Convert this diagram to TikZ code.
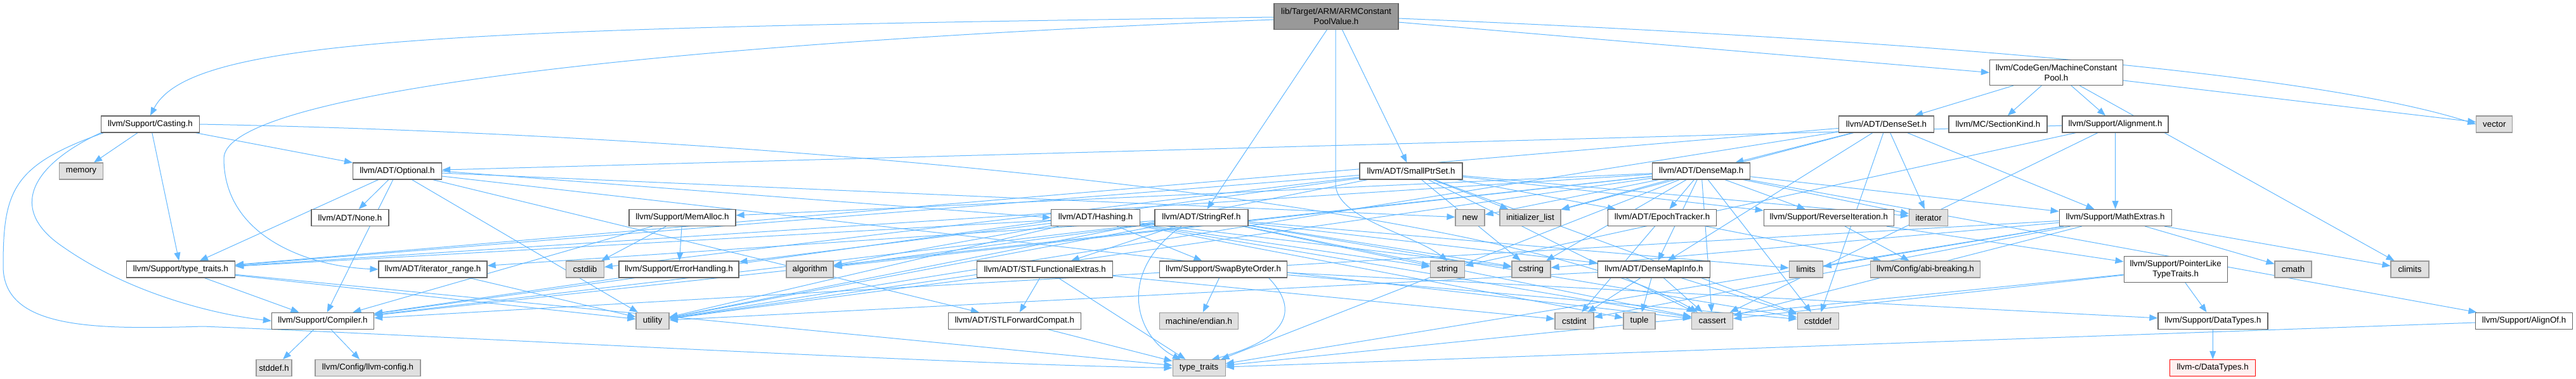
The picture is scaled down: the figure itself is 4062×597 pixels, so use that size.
\documentclass[tikz,border=0pt]{standalone}
\usepackage{fontspec}
\setmainfont{Liberation Sans}
\usetikzlibrary{arrows.meta}
\definecolor{edgec}{HTML}{63B8FF}
\definecolor{wbord}{HTML}{666666}
\definecolor{gbord}{HTML}{999999}
\definecolor{gfill}{HTML}{E0E0E0}
\definecolor{rootfill}{HTML}{999999}
\definecolor{rfill}{HTML}{FFF0F0}
\definecolor{rbord}{HTML}{FF0000}
\pgfdeclarelayer{edgelayer}
\pgfsetlayers{edgelayer,main}
\begin{document}
\begin{tikzpicture}[x=1pt,y=-1pt,
  box/.style={draw=wbord, fill=white, line width=1.2pt, rectangle, inner sep=0pt,
    minimum height=26pt, font=\fontsize{13.3}{16.5}\selectfont, align=center},
  gbox/.style={box, draw=gbord, fill=gfill},
  rootbox/.style={box, fill=rootfill, minimum height=41pt},
  rbox/.style={box, draw=rbord, fill=rfill},
  e/.style={draw=edgec, line width=1pt, -{Triangle[length=13pt,width=10pt]}}]
\useasboundingbox (0,0) rectangle (4062,597);
% nodes
\node[rootbox, minimum width=196pt] (root) at (2107,25.7) {lib/Target/ARM/ARMConstant\\PoolValue.h};
\node[box, minimum width=155pt] (casting) at (237,196) {llvm/Support/Casting.h};
\node[gbox, minimum width=69pt] (memory) at (128,270) {memory};
\node[box, minimum width=140pt] (optional) at (626.5,270) {llvm/ADT/Optional.h};
\node[box, minimum width=122pt] (none) at (552,343.5) {llvm/ADT/None.h};
\node[box, minimum width=171pt] (sttraits) at (285,425) {llvm/Support/type\_traits.h};
\node[box, minimum width=171pt] (itrange) at (682.5,425) {llvm/ADT/iterator\_range.h};
\node[box, minimum width=161pt] (compiler) at (509,506.3) {llvm/Support/Compiler.h};
\node[gbox, minimum width=56pt] (stddef) at (432,580.5) {stddef.h};
\node[gbox, minimum width=166pt] (llvmconfig) at (580,580.5) {llvm/Config/llvm-config.h};
\node[box, minimum width=168pt] (memalloc) at (1076,343.5) {llvm/Support/MemAlloc.h};
\node[gbox, minimum width=60pt] (cstdlib) at (922.4,425) {cstdlib};
\node[box, minimum width=189pt] (errh) at (1070.4,425) {llvm/Support/ErrorHandling.h};
\node[gbox, minimum width=74pt] (algorithm) at (1277,425) {algorithm};
\node[gbox, minimum width=52pt] (utility) at (1029,506.3) {utility};
\node[box, minimum width=140pt] (hashing) at (1727.6,343.5) {llvm/ADT/Hashing.h};
\node[box, minimum width=147pt] (stringref) at (1894.4,343.5) {llvm/ADT/StringRef.h};
\node[box, minimum width=214pt] (stlfe) at (1647.7,425) {llvm/ADT/STLFunctionalExtras.h};
\node[box, minimum width=201pt] (swap) at (1929,425) {llvm/Support/SwapByteOrder.h};
\node[box, minimum width=209pt] (stlfc) at (1599.8,506.3) {llvm/ADT/STLForwardCompat.h};
\node[gbox, minimum width=124pt] (endian) at (1890.4,506.3) {machine/endian.h};
\node[gbox, minimum width=83pt] (typetraits) at (1890.6,580.5) {type\_traits};
\node[box, minimum width=162pt] (smallptr) at (2225,270) {llvm/ADT/SmallPtrSet.h};
\node[box, minimum width=154pt] (densemap) at (2682.7,270) {llvm/ADT/DenseMap.h};
\node[gbox, minimum width=46pt] (new) at (2318,343.5) {new};
\node[gbox, minimum width=96pt] (initlist) at (2413,343.5) {initializer\_list};
\node[box, minimum width=171pt] (epoch) at (2621,343.5) {llvm/ADT/EpochTracker.h};
\node[gbox, minimum width=54pt] (string) at (2282.4,425) {string};
\node[gbox, minimum width=61pt] (cstring) at (2414.5,425) {cstring};
\node[box, minimum width=177pt] (dmi) at (2608,425) {llvm/ADT/DenseMapInfo.h};
\node[gbox, minimum width=61pt] (cstdint) at (2482.4,506.3) {cstdint};
\node[gbox, minimum width=50pt] (tuple) at (2585,506.3) {tuple};
\node[gbox, minimum width=65pt] (cassert) at (2700,506.3) {cassert};
\node[box, minimum width=210pt, minimum height=40pt] (mcp) at (3242.5,114.5) {llvm/CodeGen/MachineConstant\\Pool.h};
\node[box, minimum width=150pt] (denseset) at (2974.5,196) {llvm/ADT/DenseSet.h};
\node[box, minimum width=155pt] (sectionkind) at (3150.4,196) {llvm/MC/SectionKind.h};
\node[box, minimum width=167pt] (alignment) at (3335.5,196) {llvm/Support/Alignment.h};
\node[box, minimum width=205pt] (reviter) at (2883.8,343.5) {llvm/Support/ReverseIteration.h};
\node[gbox, minimum width=61pt] (iterator) at (3041,343.5) {iterator};
\node[box, minimum width=177pt] (mathextras) at (3335.6,343.5) {llvm/Support/MathExtras.h};
\node[gbox, minimum width=53pt] (limits) at (2847.7,425) {limits};
\node[gbox, minimum width=173pt] (abi) at (3035.9,425) {llvm/Config/abi-breaking.h};
\node[box, minimum width=163pt, minimum height=41pt] (pltt) at (3430.6,425) {llvm/Support/PointerLike\\TypeTraits.h};
\node[gbox, minimum width=65pt] (cstddef) at (2866.6,506.3) {cstddef};
\node[gbox, minimum width=57pt] (vector) at (3933.3,196) {vector};
\node[gbox, minimum width=58pt] (cmath) at (3616,425) {cmath};
\node[gbox, minimum width=60pt] (climits) at (3800,425) {climits};
\node[box, minimum width=173pt] (datatypes) at (3489.4,506.3) {llvm/Support/DataTypes.h};
\node[box, minimum width=153pt] (alignof) at (3980,506.3) {llvm/Support/AlignOf.h};
\node[rbox, minimum width=135pt] (cdatatypes) at (3489.2,580.5) {llvm-c/DataTypes.h};
\begin{pgfonlayer}{edgelayer}
% root
\draw[e] (2008,27) .. controls (700,45) and (300,60) .. (casting.north);
\draw[e] (2008,31) .. controls (1000,70) and (353,150) .. (353,250) .. controls (353,370) and (480,420) .. (itrange.west);
\draw[e] (2093,46) -- (stringref);
\draw[e] (2106,46) -- (2106,290) .. controls (2106,345) and (2230,370) .. (string.north);
\draw[e] (2116,46) -- (smallptr);
\draw[e] (2205,35) -- (mcp.west);
\draw[e] (2205,29) .. controls (3200,70) and (3700,130) .. (vector.west);
% casting
\draw[e] (casting) -- (memory);
\draw[e] (casting) -- (sttraits);
\draw[e] (casting) -- (optional);
\draw[e] (160,209) .. controls (50,260) and (10,330) .. (100,390) .. controls (200,460) and (330,495) .. (compiler.west);
\draw[e] (165,209) .. controls (20,260) and (5,300) .. (5,420) .. controls (5,520) and (150,520) .. (320,515) .. controls (700,530) and (1500,575) .. (typetraits.west);
\draw[e] (casting.east) .. controls (1300,215) and (2400,330) .. (cassert);
% optional
\draw[e] (optional) -- (none);
\draw[e] (optional.east) -- (hashing.west);
\draw[e] (optional) -- (new);
\draw[e] (optional) -- (stlfc);
\draw[e] (optional) -- (compiler);
\draw[e] (optional) -- (sttraits);
\draw[e] (optional) -- (cassert);
\draw[e] (optional) -- (utility);
% hashing
\foreach \t in {errh,swap,sttraits,algorithm,cassert,cstring,string,tuple,utility}
  \draw[e] (hashing) -- (\t);
% stringref
\foreach \t in {dmi,stlfe,itrange,compiler,algorithm,cassert,cstddef,cstring,limits,string,utility}
  \draw[e] (stringref) -- (\t);
\draw[e] (1863,357) .. controls (1760,430) and (1790,530) .. (1862,567.6);
% smallptr
\foreach \t in {epoch,compiler,reviter,sttraits,cassert,cstddef,cstdlib,cstring,initlist,iterator,utility}
  \draw[e] (smallptr) -- (\t);
% densemap
\foreach \t in {dmi,epoch,alignof,compiler,mathextras,memalloc,reviter,sttraits,algorithm,cassert,cstddef,cstring,initlist,iterator,new,typetraits,utility}
  \draw[e] (densemap) -- (\t);
% denseset
\foreach \t in {densemap,dmi,mathextras,sttraits,cstddef,initlist,iterator,utility}
  \draw[e] (denseset) -- (\t);
% mcp
\foreach \t in {denseset,sectionkind,alignment,climits,vector}
  \draw[e] (mcp) -- (\t);
% alignment
\foreach \t in {optional,mathextras,cassert,string}
  \draw[e] (alignment) -- (\t);
% mathextras
\foreach \t in {compiler,cassert,climits,cmath,cstdint,cstring,limits,typetraits}
  \draw[e] (mathextras) -- (\t);
% others
\draw[e] (reviter) -- (abi);
\draw[e] (reviter) -- (pltt);
\foreach \t in {datatypes,cassert,typetraits}
  \draw[e] (pltt) -- (\t);
\draw[e] (datatypes) -- (cdatatypes);
\draw[e] (epoch) -- (abi);
\draw[e] (epoch) -- (cstdint);
\foreach \t in {cassert,cstddef,cstdint,tuple,utility}
  \draw[e] (dmi) -- (\t);
\foreach \t in {compiler,errh,cstdlib}
  \draw[e] (memalloc) -- (\t);
\draw[e] (errh) -- (compiler);
\draw[e] (itrange) -- (utility);
\foreach \t in {stlfc,cstdint,typetraits,utility}
  \draw[e] (stlfe) -- (\t);
\draw[e] (stlfc) -- (typetraits);
\foreach \t in {endian,cstddef,datatypes}
  \draw[e] (swap) -- (\t);
\draw[e] (2000,438) .. controls (2060,500) and (2010,540) .. (1910,567.6);
\foreach \t in {compiler,typetraits,utility}
  \draw[e] (sttraits) -- (\t);
\draw[e] (compiler) -- (stddef);
\draw[e] (compiler) -- (llvmconfig);
\draw[e] (alignof) -- (typetraits);
\end{pgfonlayer}
\end{tikzpicture}
\end{document}
